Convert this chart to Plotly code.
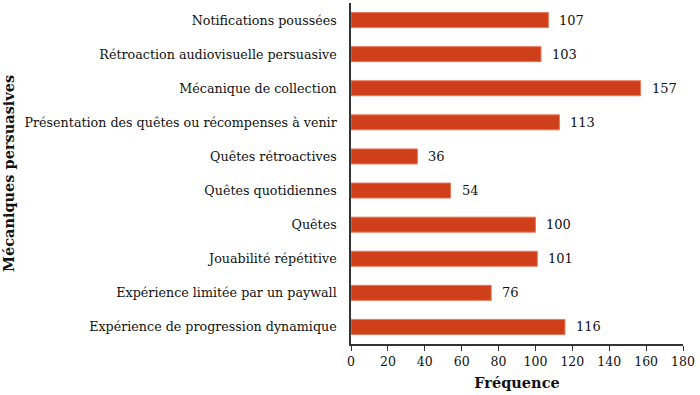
import plotly.graph_objects as go

categories = [
    "Notifications poussées",
    "Rétroaction audiovisuelle persuasive",
    "Mécanique de collection",
    "Présentation des quêtes ou récompenses à venir",
    "Quêtes rétroactives",
    "Quêtes quotidiennes",
    "Quêtes",
    "Jouabilité répétitive",
    "Expérience limitée par un paywall",
    "Expérience de progression dynamique",
]
values = [107, 103, 157, 113, 36, 54, 100, 101, 76, 116]
x_ticks = [0, 20, 40, 60, 80, 100, 120, 140, 160, 180]

FONT = "DejaVu Serif"

fig = go.Figure()
fig.add_trace(go.Bar(
    y=categories,
    x=values,
    orientation="h",
    marker=dict(color="#CF3F1A", line=dict(color="#E8775A", width=1)),
    width=0.44,
    hoverinfo="skip",
))

for c, v in zip(categories, values):
    fig.add_annotation(
        x=v, y=c, text=str(v), showarrow=False,
        xanchor="left", yanchor="middle", xshift=9,
        font=dict(family=FONT, size=13, color="#111111"),
    )

fig.update_layout(
    width=700, height=395,
    margin=dict(l=351, r=17, t=3, b=51),
    paper_bgcolor="white", plot_bgcolor="white",
    showlegend=False,
    font=dict(family=FONT, size=12.7, color="#111111"),
)
fig.update_xaxes(
    range=[0, 180], tickvals=x_ticks, ticktext=[str(t) for t in x_ticks],
    showgrid=False, zeroline=False, automargin=False,
    showline=True, linecolor="#333333", linewidth=1.5,
    ticks="outside", ticklen=5, tickcolor="#333333",
    tickfont=dict(family=FONT, size=12.5, color="#111111"),
    title=dict(text="<b>Fréquence</b>", font=dict(family=FONT, size=14.5, color="#111111"), standoff=10),
)
fig.update_yaxes(
    categoryorder="array", categoryarray=categories[::-1],
    range=[-0.5, len(categories) - 0.5],
    showgrid=False, zeroline=False, automargin=False,
    showline=True, linecolor="#333333", linewidth=1.5,
    ticks="", ticklabelstandoff=10,
    tickfont=dict(family=FONT, size=12.7, color="#111111"),
    title=dict(text="<b>Mécaniques persuasives</b>", font=dict(family=FONT, size=14.5, color="#111111"), standoff=12),
)

fig.write_html("out.html", config={"displayModeBar": False},
               post_script="document.body.style.margin='0';")
